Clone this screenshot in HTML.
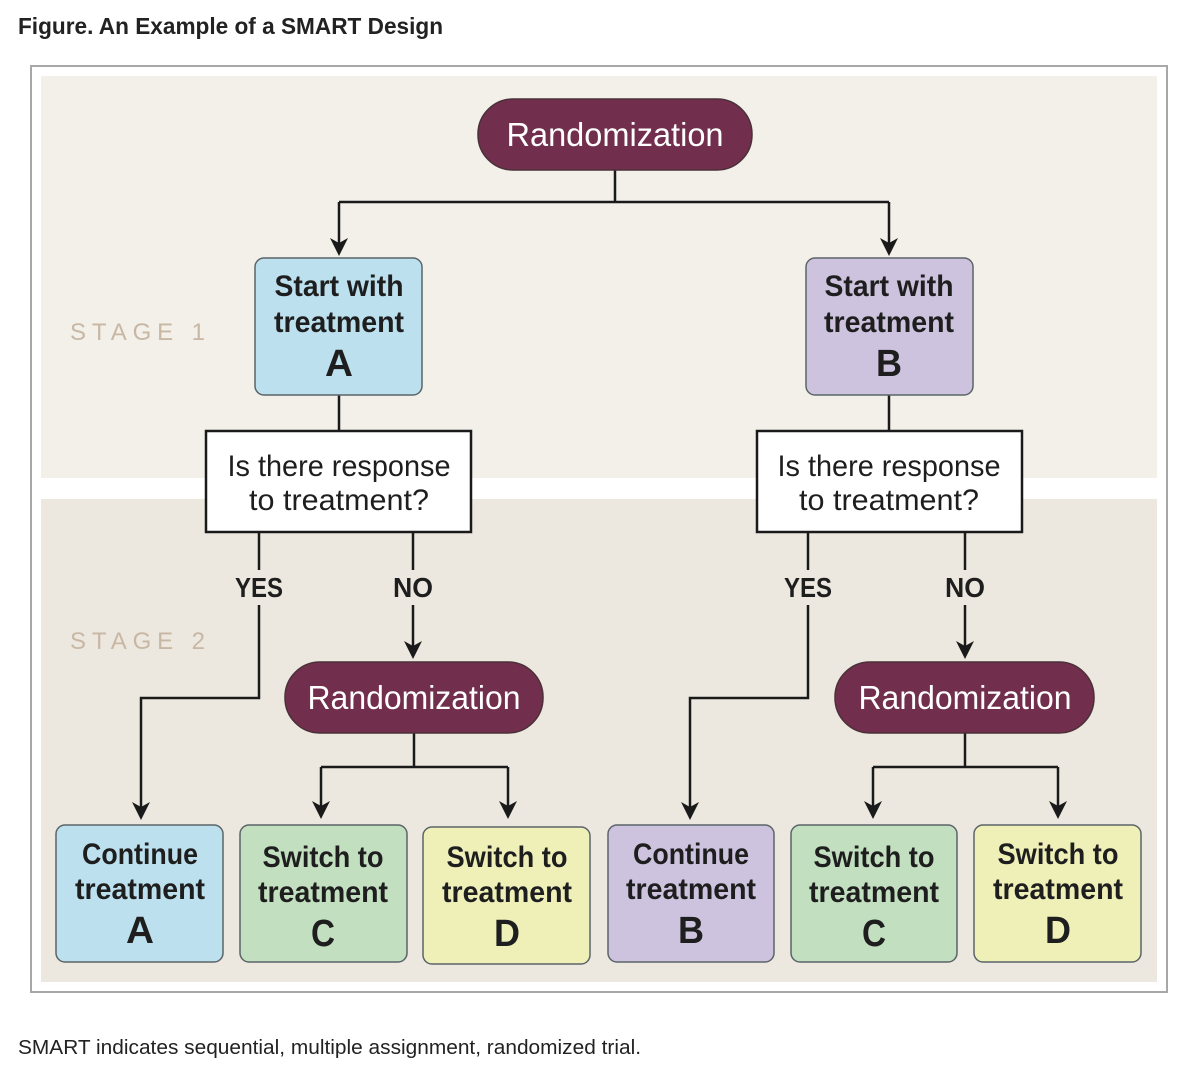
<!DOCTYPE html>
<html><head><meta charset="utf-8"><style>
html,body{margin:0;padding:0;background:#fff;width:1199px;height:1081px;overflow:hidden}
svg{display:block}
.n{font-family:"Liberation Sans",sans-serif;}
</style></head><body>
<svg width="1199" height="1081" viewBox="0 0 1199 1081" xmlns="http://www.w3.org/2000/svg">
<defs>
<path id="ah" d="M-9,-18 L0,-13 L9,-18 L0,0 Z" fill="#1a1a1a"/>
</defs>
<text x="18" y="34" font-family="Liberation Sans, sans-serif" font-weight="bold" font-size="23" fill="#222" textLength="425" lengthAdjust="spacingAndGlyphs">Figure.  An Example of a SMART Design</text>
<rect x="31" y="66" width="1136" height="926" fill="#fff" stroke="#a8a8a8" stroke-width="2"/>
<rect x="41" y="76" width="1116" height="402" fill="#f3f0ea"/>
<rect x="41" y="499" width="1116" height="483" fill="#ede8df"/>
<g font-family="Liberation Sans, sans-serif" font-size="24" fill="#c8b7a3">
<text x="70" y="340" textLength="135" lengthAdjust="spacing">STAGE 1</text><text x="70" y="649" textLength="135" lengthAdjust="spacing">STAGE 2</text></g>
<g stroke="#1a1a1a" stroke-width="2.5" fill="none">
<path d="M615,170 V202 M339,202 H889 M339,202 V245 M889,202 V245"/>
<path d="M339,395 V431 M889,395 V431"/>
<path d="M259,532 V570 M259,605 V698 H141 V808 M413,532 V570 M413,605 V646"/>
<path d="M808,532 V570 M808,605 V698 H690 V808 M965,532 V570 M965,605 V646"/>
<path d="M414,733 V767 M321,767 H508 M321,767 V806 M508,767 V806"/>
<path d="M965,733 V767 M873,767 H1058 M873,767 V806 M1058,767 V806"/>
</g>
<use href="#ah" x="339" y="256"/><use href="#ah" x="889" y="256"/>
<use href="#ah" x="141" y="820"/><use href="#ah" x="413" y="659"/>
<use href="#ah" x="690" y="820"/><use href="#ah" x="965" y="659"/>
<use href="#ah" x="321" y="819"/><use href="#ah" x="508" y="819"/>
<use href="#ah" x="873" y="819"/><use href="#ah" x="1058" y="819"/>
<g class="n" font-size="28" fill="#1e1e1e" text-anchor="middle" font-weight="bold" lengthAdjust="spacingAndGlyphs">
<text x="259" y="597" textLength="48" lengthAdjust="spacingAndGlyphs">YES</text><text x="413" y="597" textLength="40" lengthAdjust="spacingAndGlyphs">NO</text>
<text x="808" y="597" textLength="48" lengthAdjust="spacingAndGlyphs">YES</text><text x="965" y="597" textLength="40" lengthAdjust="spacingAndGlyphs">NO</text></g>
<g stroke="#4a3038" stroke-width="1.5" fill="#722f4d">
<rect x="478" y="99" width="274" height="71" rx="35"/>
<rect x="285" y="662" width="258" height="71" rx="35"/>
<rect x="835" y="662" width="259" height="71" rx="35"/>
</g>
<g class="n" font-size="33" fill="#fff" text-anchor="middle">
<text x="615" y="146" textLength="217" lengthAdjust="spacingAndGlyphs">Randomization</text><text x="414" y="709" textLength="213" lengthAdjust="spacingAndGlyphs">Randomization</text><text x="965" y="709" textLength="213" lengthAdjust="spacingAndGlyphs">Randomization</text></g>
<g stroke="#5b6468" stroke-width="1.5">
<rect x="255" y="258" width="167" height="137" rx="9" fill="#bde0ef"/>
<rect x="806" y="258" width="167" height="137" rx="9" fill="#cdc3df"/>
<rect x="56" y="825" width="167" height="137" rx="9" fill="#bde0ef"/>
<rect x="240" y="825" width="167" height="137" rx="9" fill="#c2dfc0"/>
<rect x="423" y="827" width="167" height="137" rx="9" fill="#eef0b8"/>
<rect x="608" y="825" width="166" height="137" rx="9" fill="#cdc3df"/>
<rect x="791" y="825" width="166" height="137" rx="9" fill="#c2dfc0"/>
<rect x="974" y="825" width="167" height="137" rx="9" fill="#eef0b8"/>
</g>
<g stroke="#1a1a1a" stroke-width="2.5" fill="#fff">
<rect x="206" y="431" width="265" height="101"/><rect x="757" y="431" width="265" height="101"/></g>
<g class="n" font-size="30" fill="#1e1e1e" text-anchor="middle">
<text x="339" y="476" textLength="223" lengthAdjust="spacingAndGlyphs">Is there response</text><text x="339" y="510" textLength="180" lengthAdjust="spacingAndGlyphs">to treatment?</text>
<text x="889" y="476" textLength="223" lengthAdjust="spacingAndGlyphs">Is there response</text><text x="889" y="510" textLength="180" lengthAdjust="spacingAndGlyphs">to treatment?</text>
</g>
<g class="n" font-size="30" fill="#1e1e1e" text-anchor="middle" font-weight="bold">
<text x="339" y="296" textLength="129" lengthAdjust="spacingAndGlyphs">Start with</text><text x="339" y="332" textLength="130" lengthAdjust="spacingAndGlyphs">treatment</text><text x="339" y="376" font-size="38" textLength="28" lengthAdjust="spacingAndGlyphs">A</text>
<text x="889" y="296" textLength="129" lengthAdjust="spacingAndGlyphs">Start with</text><text x="889" y="332" textLength="130" lengthAdjust="spacingAndGlyphs">treatment</text><text x="889" y="376" font-size="38" textLength="26" lengthAdjust="spacingAndGlyphs">B</text>
<text x="140" y="864" textLength="116" lengthAdjust="spacingAndGlyphs">Continue</text><text x="140" y="899" textLength="130" lengthAdjust="spacingAndGlyphs">treatment</text><text x="140" y="943" font-size="38" textLength="28" lengthAdjust="spacingAndGlyphs">A</text>
<text x="323" y="867" textLength="121" lengthAdjust="spacingAndGlyphs">Switch to</text><text x="323" y="902" textLength="130" lengthAdjust="spacingAndGlyphs">treatment</text><text x="323" y="946" font-size="38" textLength="24" lengthAdjust="spacingAndGlyphs">C</text>
<text x="507" y="867" textLength="121" lengthAdjust="spacingAndGlyphs">Switch to</text><text x="507" y="902" textLength="130" lengthAdjust="spacingAndGlyphs">treatment</text><text x="507" y="946" font-size="38" textLength="26" lengthAdjust="spacingAndGlyphs">D</text>
<text x="691" y="864" textLength="116" lengthAdjust="spacingAndGlyphs">Continue</text><text x="691" y="899" textLength="130" lengthAdjust="spacingAndGlyphs">treatment</text><text x="691" y="943" font-size="38" textLength="26" lengthAdjust="spacingAndGlyphs">B</text>
<text x="874" y="867" textLength="121" lengthAdjust="spacingAndGlyphs">Switch to</text><text x="874" y="902" textLength="130" lengthAdjust="spacingAndGlyphs">treatment</text><text x="874" y="946" font-size="38" textLength="24" lengthAdjust="spacingAndGlyphs">C</text>
<text x="1058" y="864" textLength="121" lengthAdjust="spacingAndGlyphs">Switch to</text><text x="1058" y="899" textLength="130" lengthAdjust="spacingAndGlyphs">treatment</text><text x="1058" y="943" font-size="38" textLength="26" lengthAdjust="spacingAndGlyphs">D</text>
</g>
<text x="18" y="1054" font-family="Liberation Sans, sans-serif" font-size="20" fill="#222" textLength="623" lengthAdjust="spacingAndGlyphs">SMART indicates sequential, multiple assignment, randomized trial.</text>
</svg>
</body></html>
